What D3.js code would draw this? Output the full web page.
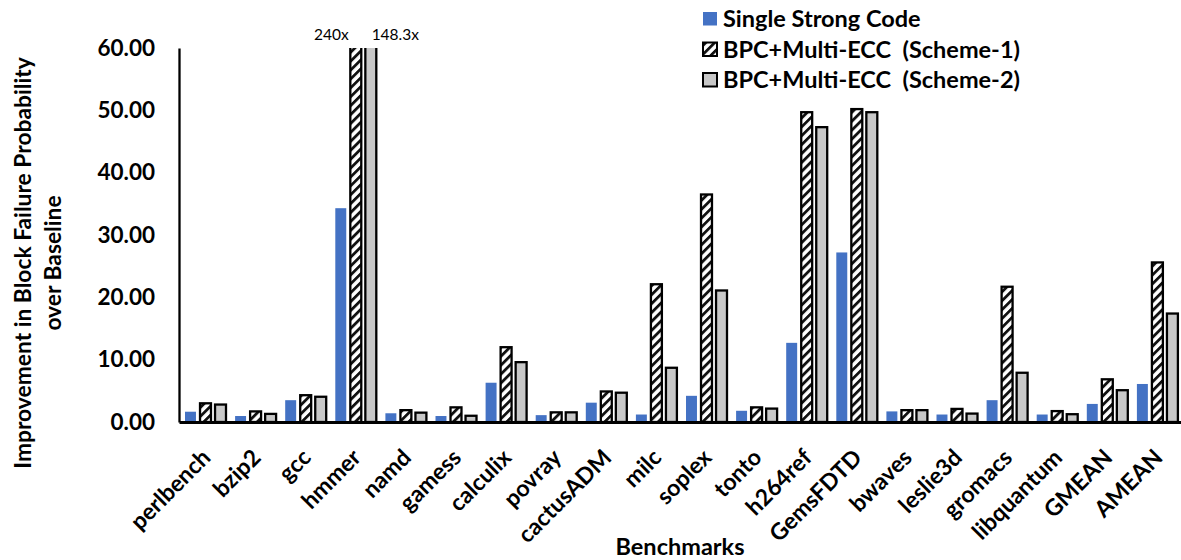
<!DOCTYPE html>
<html>
<head>
<meta charset="utf-8">
<script src="https://cdn.jsdelivr.net/npm/d3@7/dist/d3.min.js"></script>
<style>
  html, body { margin: 0; padding: 0; background: #fff; }
  svg text { font-family: Lato, "DejaVu Sans", sans-serif; }
</style>
</head>
<body>
<svg id="chart" width="1181" height="560"></svg>
<script>
const categories = ["perlbench","bzip2","gcc","hmmer","namd","gamess","calculix","povray","cactusADM","milc","soplex","tonto","h264ref","GemsFDTD","bwaves","leslie3d","gromacs","libquantum","GMEAN","AMEAN"];
const seriesNames = ["Single Strong Code","BPC+Multi-ECC  (Scheme-1)","BPC+Multi-ECC  (Scheme-2)"];
const singleStrong = [1.65,0.96,3.5,34.3,1.4,0.96,6.3,1.1,3.1,1.2,4.2,1.8,12.7,27.2,1.7,1.2,3.5,1.2,2.9,6.1];
const scheme1 = [3.0,1.7,4.3,240,1.9,2.35,12.0,1.55,4.9,22.1,36.5,2.35,49.7,50.2,1.9,2.1,21.7,1.75,6.85,25.6];
const scheme2 = [2.8,1.3,4.05,148.3,1.5,1.0,9.6,1.55,4.7,8.7,21.1,2.15,47.3,49.7,1.9,1.35,7.9,1.25,5.1,17.4];
const yTicks = [0,10,20,30,40,50,60];
const overflowLabels = ["240x","148.3x"]; // hmmer bars exceed the axis

const svg = d3.select("#chart");
const pLeft = 179, pRight = 1181, pTop = 48, pBottom = 422;

const x = d3.scaleBand().domain(categories).range([pLeft, pRight]).padding(0);
const xs = d3.scaleBand().domain(seriesNames).range([6, 47]).paddingInner(0.27).paddingOuter(0);
const y = d3.scaleLinear().domain([0, 60]).range([pBottom, pTop]);

const defs = svg.append("defs");
const pat = defs.append("pattern").attr("id","hatch").attr("patternUnits","userSpaceOnUse")
  .attr("width",6.3).attr("height",6.3).attr("patternTransform","rotate(45)");
pat.append("rect").attr("width",6.3).attr("height",6.3).attr("fill","#fff");
pat.append("rect").attr("x",0).attr("y",0).attr("width",2.8).attr("height",6.3).attr("fill","#111");
defs.append("clipPath").attr("id","plotclip").append("rect")
  .attr("x", pLeft).attr("y", pTop).attr("width", pRight-pLeft).attr("height", pBottom-pTop+2);

const fills = ["#4472C4","url(#hatch)","#C8C8C8"];
const data = [singleStrong, scheme1, scheme2];

const g = svg.append("g").attr("clip-path","url(#plotclip)");
seriesNames.forEach((s, si) => {
  g.selectAll(".b"+si).data(categories).enter().append("rect")
    .attr("x", d => x(d) + xs(s))
    .attr("width", xs.bandwidth())
    .attr("y", (d,i) => y(Math.min(data[si][i], 62)))
    .attr("height", (d,i) => pBottom - y(Math.min(data[si][i], 62)))
    .attr("fill", fills[si])
    .attr("stroke", si === 0 ? "none" : "#000")
    .attr("stroke-width", 2.3);
});

// overflow labels on hmmer
svg.append("text").attr("x", x("hmmer") + 2).attr("y", 40).attr("text-anchor","middle")
  .attr("font-size", 15.5).text(overflowLabels[0]);
svg.append("text").attr("x", x("hmmer") + 66).attr("y", 40).attr("text-anchor","middle")
  .attr("font-size", 15.5).text(overflowLabels[1]);

// y axis
const yAxis = svg.append("g").attr("transform", `translate(${pLeft},0)`)
  .call(d3.axisLeft(y).tickValues(yTicks).tickSize(0).tickPadding(24).tickFormat(d3.format(".2f")));
yAxis.select(".domain").attr("stroke","#000").attr("stroke-width",2.3);
yAxis.selectAll("text").attr("font-size",22.5).attr("font-weight","bold").attr("fill","#000")
  .style("font-family","Lato, sans-serif");

// x axis
const xAxis = svg.append("g").attr("transform", `translate(0,${pBottom})`)
  .call(d3.axisBottom(x).tickSize(0));
xAxis.select(".domain").attr("stroke","#000").attr("stroke-width",2.8);
xAxis.selectAll("text").attr("font-size",23).attr("font-weight","bold").attr("fill","#000")
  .style("font-family","Lato, sans-serif")
  .attr("text-anchor","end").attr("dy",0).attr("y",0)
  .attr("transform","translate(8,37) rotate(-45)");

// axis titles
svg.append("text").attr("x", 680).attr("y", 555).attr("text-anchor","middle")
  .attr("font-size",23.5).attr("font-weight","bold").text("Benchmarks");
const yt = svg.append("text").attr("transform","translate(31,263) rotate(-90)")
  .attr("text-anchor","middle").attr("font-size",22.8).attr("font-weight","bold");
yt.append("tspan").attr("x",0).attr("y",0).text("Improvement in Block Failure Probability");
yt.append("tspan").attr("x",0).attr("y",29.5).text("over Baseline");

// legend
const lg = svg.append("g").attr("transform","translate(702,0)");
seriesNames.forEach((s, i) => {
  const base = 27 + i * 30.5;
  lg.append("rect").attr("x", 1).attr("y", base - 15).attr("width", 14).attr("height", 13.5)
    .attr("fill", fills[i]).attr("stroke", i === 0 ? "none" : "#000").attr("stroke-width", 2);
  lg.append("text").attr("x", 21).attr("y", base).attr("font-size", 23.5).attr("font-weight","bold")
    .style("white-space","pre").text(s);
});
</script>
</body>
</html>
